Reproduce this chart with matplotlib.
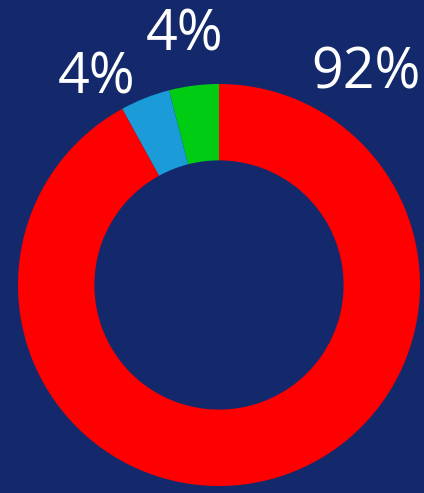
import matplotlib.pyplot as plt

# slice values, counter-clockwise from 12 o'clock
labels = ['4%', '4%', '92%']
values = [4, 4, 92]
colors = ['#00cc14', '#1b9bd7', '#ff0000']

bg_color = '#14296b'

fig = plt.figure(figsize=(4.24, 4.93), dpi=100)
fig.patch.set_facecolor(bg_color)
ax = fig.add_axes([0, 0, 1, 1])
ax.set_facecolor(bg_color)

# pixel-like data space, y going up
ax.pie(values, colors=colors, startangle=90, counterclock=True,
       center=(219, 208), radius=201,
       wedgeprops=dict(width=201 * 0.38, linewidth=0))

ax.set_xlim(0, 424)
ax.set_ylim(0, 493)
ax.axis('off')

# labels placed around the top of the ring
label_pos = [(185, 457), (97, 414), (366, 419)]
for txt, (x, y) in zip(labels, label_pos):
    ax.text(x, y, txt, color='white', fontsize=40, family='Open Sans',
            ha='center', va='center')

fig.savefig('out.png', dpi=100, facecolor=bg_color)
